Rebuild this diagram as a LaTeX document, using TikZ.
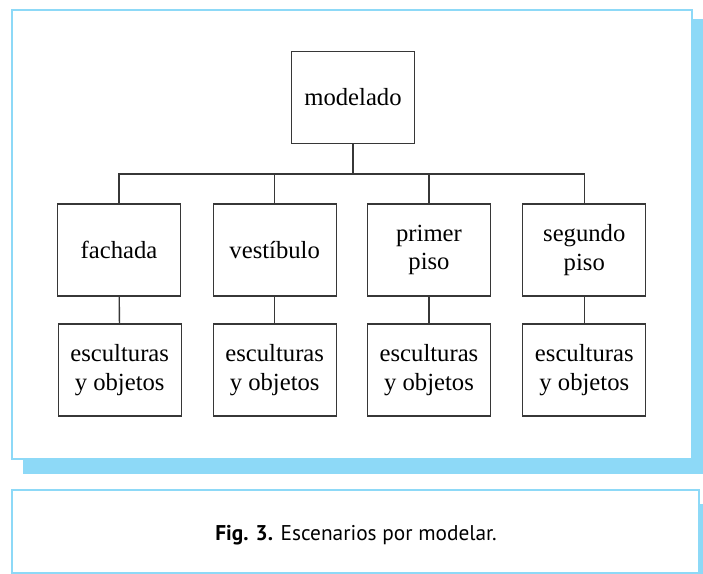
\documentclass[tikz,border=0pt]{standalone}
\usepackage{fontspec}
\setmainfont{Liberation Serif}
\newfontfamily\capfont{PT Sans}
\definecolor{framblue}{RGB}{141,217,247}
\definecolor{boxgray}{RGB}{55,55,55}
\tikzset{every picture/.style={line width=0.75pt}}
\tikzset{
  box/.style={draw=boxgray, line width=1pt, minimum width=92.25pt, minimum height=69pt,
    inner sep=0pt, align=center, font=\fontsize{18.5}{21.4}\selectfont},
  link/.style={draw=boxgray, line width=1pt}
}
\begin{document}
\begin{tikzpicture}[x=0.75pt,y=0.75pt,yscale=-1,xscale=1]
\useasboundingbox (0,0) rectangle (703,574);

% frame with shadow
\fill [framblue] (23,19) rectangle (703,474);
\draw [framblue, fill=white, line width=1.8pt] (12,10) rectangle (692,459);

% caption box with shadow
\fill [framblue] (23,504) rectangle (703,574);
\draw [framblue, fill=white, line width=1.8pt] (12,490) rectangle (699,573);

% Nodes
\node [box] (mod) at (353,97.5) {modelado};

\node [box] (fach) at (119,250) {fachada};
\node [box] (vest) at (274.7,250) {vestíbulo};
\node [box] (prim) at (429,250) {primer\\piso};
\node [box] (seg) at (584.3,250) {segundo\\piso};

\node [box] (esc1) at (119.7,370) {esculturas\\y objetos};
\node [box] (esc2) at (274.7,370) {esculturas\\y objetos};
\node [box] (esc3) at (429,370) {esculturas\\y objetos};
\node [box] (esc4) at (584.3,370) {esculturas\\y objetos};

% Connectors
\coordinate (bus) at (353,174);
\draw [link] (mod) -- (bus);
\draw [link] (bus) -| (fach);
\draw [link] (bus) -| (vest);
\draw [link] (bus) -| (prim);
\draw [link] (bus) -| (seg);
\draw [link] (fach) -- (esc1);
\draw [link] (vest) -- (esc2);
\draw [link] (prim) -- (esc3);
\draw [link] (seg) -- (esc4);

% Caption
\node [font=\capfont\fontsize{16}{19}\selectfont] (cap) at (356,535) {\textbf{Fig. 3.} Escenarios por modelar.};

\end{tikzpicture}
\end{document}
